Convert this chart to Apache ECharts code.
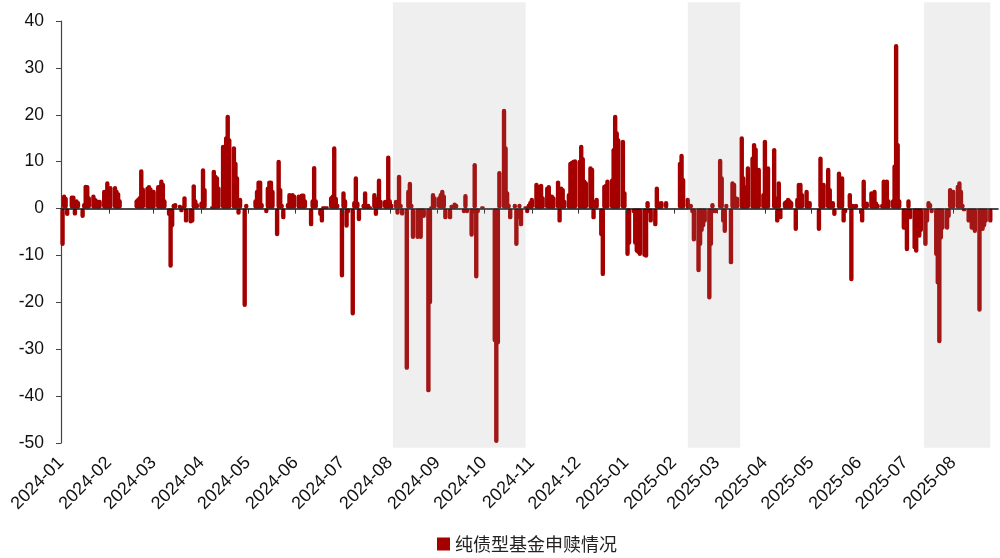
<!DOCTYPE html>
<html>
<head>
<meta charset="utf-8">
<script src="https://cdn.jsdelivr.net/npm/echarts@6/dist/echarts.min.js"></script>
<style>
  html, body { margin: 0; padding: 0; background: #fff; }
  #chart { width: 1000px; height: 558px; }
</style>
</head>
<body>
<div id="chart"></div>
<script>
// Month tick labels along the date axis
const monthLabels = ['2024-01','2024-02','2024-03','2024-04','2024-05','2024-06','2024-07','2024-08','2024-09','2024-10','2024-11','2024-12',
                     '2025-01','2025-02','2025-03','2025-04','2025-05','2025-06','2025-07','2025-08'];

// Exchange holidays (weekday closures)
const closedDays = ['2024-01-01','2024-02-09','2024-02-12','2024-02-13','2024-02-14','2024-02-15','2024-02-16',
  '2024-04-04','2024-04-05','2024-05-01','2024-05-02','2024-05-03','2024-06-10','2024-09-16','2024-09-17',
  '2024-10-01','2024-10-02','2024-10-03','2024-10-04','2024-10-07','2025-01-01','2025-01-28','2025-01-29',
  '2025-01-30','2025-01-31','2025-02-03','2025-02-04','2025-04-04','2025-05-01','2025-05-02','2025-05-05','2025-06-02'];

// Daily net subscription / redemption of pure bond funds, one array per month (trading days in order)
const v202401 = [-8, 3, 2.5, -1.6, 2.8, 2.8, -1.5, 2, 1.6, -2, 1.2, 5.1, 5, 2.6, 3, 2.3, 2, 1.9, 1.9, 4, 4, 5.8];
const v202402 = [4, 4.8, 4.8, 4, 3.5, 2, 2, 2.3, 2.7, 8.4, 4.5, 4.7, 5, 4.5, 2];
const v202403 = [4, 5, 5.1, 6.2, 5.5, 2, -1.6, -12.6, -4, 1, 1.2, 0.8, -0.8, 0.6, 2.6, -3, -3.2, -3, 5.2, 2, 1.2];
const v202404 = [1.5, 8.6, 4.4, 0.5, 8.3, 7.2, 6.9, 4.7, 13.6, 13.6, 15.4, 20, 15, 13.3, 10, 6.9, -1.3, 2.3, -21, 1];
const v202405 = [2, 4, 6, 6, 1.2, -1, 4.7, 6, 6, 4, -5.9, 10.4, 4.4, 1, -2.3, 1.2, 3.3, 2, 3.3, 3];
const v202406 = [3, 1, 3.2, 3.2, 2, -3.8, 2, 9.1, 2, -1.6, -3, 0.5, 0.3, 0.5, 2.6, 3, 13.3, 2.5, 1];
const v202407 = [-14.7, 3.7, 2, -4.1, -1, -22.8, 1.6, 6.9, 1.5, -2.7, 1, 3.7, 0.8, 1, 0.5, 3.3, -1.6, 2.5, 6.4, 1.9, 1.9, 1.5, 11.3];
const v202408 = [2, 1, 1.9, -1.3, 7.2, 1, -1.5, -34.4, 4, 5.7, 1, -6.5, -6.5, -6.2, -6.5, -1.6, -2, -39.2, -20.4, 0.5, 3.3, 2.6];
const v202409 = [2.6, 3.3, 4, 3, -2.3, -2.3, 0.8, 0.5, 1.3, 1, -1, 3.1, -1, -6, -1, 9.7, -14.9, -1, 0.5];
const v202410 = [-28.5, -50, -29, 8, 21.3, 13.3, 3.7, 1, -2.3, 1, -8, -2.3, 1, -3.8, 0.5, -1, 1, 1.6];
const v202411 = [2.3, 5.5, 5.1, 2.6, 5.3, 2.6, 4.7, 5, 3, 3, 2.6, 6, -3, 4.7, 4.4, 1.9, 3.3, 10, 10.2, 10.4, 10.5];
const v202412 = [10.4, 13.6, 11, 6.2, 5.8, 9, 8.7, -2.3, 1.9, 2.3, -5.9, -14.4, 5.1, 5.3, 6.2, 6.4, 12.9, 20, 16.5, 15, 14.7, 3.7];
const v202501 = [-10.1, -7.7, -1, -7.7, -9.4, -9.7, -10.1, -10.3, -10.5, 1.6, -1, -3, -3.8, 4.7, 1.6, 0.5, 1.6, 1.6];
const v202502 = [10, 11.7, 6.5, 2.3, 0.5, 1, -1, -7, -13.6, -8, -5, -4, -3, -19.4, -8, 1.2, -1, -1];
const v202503 = [10.6, 6.9, -3, -5.2, 1, -11.9, 5.8, 5.5, 2.6, 2.5, 15.4, 6.9, 5, 2.6, 9, 11.1, 14, 13, 3.3, 8.7, 3.3];
const v202504 = [14.7, 2.6, 9, 12.9, 2.6, -3, 5.8, -2.3, 1.6, 1.9, 2.3, 2, 1.6, -4.8, 2.3, 5.5, 5.5, 3.3, 4, 1.6, 1.6];
const v202505 = [-4.8, 11.1, 3, 5.5, 8.7, 4.4, 1.6, 1.6, -1.6, 7.9, 4, 6.9, -3, -1, 3.3, -15.5, 1, 0.5, 1];
const v202506 = [-3, 6.2, 1, 1.5, 3.7, 2, 4, 1.5, 1, 1, 6.2, 2, 6.2, 2, 2, 9.4, 35.1, 14, 2, -4.5];
const v202507 = [-4.5, -9.1, 2, -2.3, -8.7, -9.4, -4.5, -6.2, -5, -8, -3, 1.6, 1.2, -1, -10.1, -16.2, -28.7, -6.6, -4.5, -4.5, -2, 4.4, 4];
const v202508 = [4, 5.1, 5.8, 4, 1, -0.6, -3, -2, -4.5, -4.5, -5.2, -22, -4.8, -4.8, -4, -3, -3];

const monthlyValues = [v202401, v202402, v202403, v202404, v202405, v202406, v202407, v202408, v202409, v202410, v202411, v202412,
                       v202501, v202502, v202503, v202504, v202505, v202506, v202507, v202508];

// Highlighted periods (start / end dates)
const shadeStart = ['2024-08-03', '2025-02-10', '2025-07-13'];
const shadeEnd   = ['2024-10-28', '2025-03-16', '2025-08-25'];

const seriesName = '纯债型基金申赎情况';

function ts(str) {
  const [y, m, d] = str.split('-').map(Number);
  return new Date(y, m - 1, d).getTime();
}
function pad(n) { return String(n).padStart(2, '0'); }

// Pair each month's values with its trading days
const barData = [];
monthLabels.forEach((label, i) => {
  const [y, mo] = label.split('-').map(Number);
  const vals = monthlyValues[i];
  let k = 0;
  for (let day = 1; day <= 31 && k < vals.length; day++) {
    const dt = new Date(y, mo - 1, day);
    if (dt.getMonth() !== mo - 1) break;
    const wd = dt.getDay();
    if (wd === 0 || wd === 6) continue;
    if (closedDays.includes(label + '-' + pad(day))) continue;
    barData.push([dt.getTime(), vals[k++]]);
  }
  if (k !== vals.length) console.warn('trading day count mismatch in', label);
});

const monthTicks = monthLabels.map(l => ts(l + '-01'));
const xMin = ts('2024-01-01');
const xMax = ts('2025-08-30');

const chart = echarts.init(document.getElementById('chart'), null, { renderer: 'canvas' });

chart.setOption({
  animation: false,
  backgroundColor: '#ffffff',
  grid: { left: 61, right: 2, top: 21, bottom: 115, containLabel: false },
  legend: {
    data: [seriesName],
    left: 432,
    top: 530,
    icon: 'rect',
    itemWidth: 13,
    itemHeight: 13,
    itemGap: 10,
    textStyle: { fontFamily: 'Noto Sans CJK SC', fontSize: 18, color: '#222' }
  },
  xAxis: [
    {
      type: 'value',
      min: xMin,
      max: xMax,
      position: 'bottom',
      z: 5,
      axisLine: { show: true, onZero: true, lineStyle: { color: '#111', width: 1.6 } },
      axisTick: { show: true, customValues: monthTicks, length: 5, lineStyle: { color: '#333', width: 1 } },
      axisLabel: { show: false },
      splitLine: { show: false }
    },
    {
      type: 'value',
      min: xMin,
      max: xMax,
      position: 'bottom',
      axisLine: { show: false, onZero: false },
      axisTick: { show: false },
      axisLabel: {
        show: true,
        customValues: monthTicks,
        rotate: 45,
        margin: 17,
        fontSize: 18,
        fontFamily: 'Liberation Sans, Arial, sans-serif',
        color: '#111',
        formatter: v => { const d = new Date(v); return d.getFullYear() + '-' + pad(d.getMonth() + 1); }
      },
      splitLine: { show: false }
    }
  ],
  yAxis: {
    type: 'value',
    min: -50,
    max: 40,
    interval: 10,
    axisLine: { show: true, onZero: false, lineStyle: { color: '#444', width: 1.2 } },
    axisTick: { show: true, length: 5, lineStyle: { color: '#444' } },
    axisLabel: { fontSize: 17.5, fontFamily: 'Liberation Sans, Arial, sans-serif', color: '#111', margin: 17 },
    splitLine: { show: false }
  },
  series: [
    {
      name: seriesName,
      type: 'bar',
      xAxisIndex: 0,
      yAxisIndex: 0,
      data: barData,
      barWidth: 4.4,
      itemStyle: { color: '#A50000', borderRadius: 2.2 }
    }
  ]
});

// Translucent shading over the highlighted periods
const yTop = chart.convertToPixel({ yAxisIndex: 0 }, 44);
const yBottom = chart.convertToPixel({ yAxisIndex: 0 }, -51);
const shades = shadeStart.map((s, i) => {
  const x0 = chart.convertToPixel({ xAxisIndex: 0 }, ts(s));
  const x1 = chart.convertToPixel({ xAxisIndex: 0 }, ts(shadeEnd[i]));
  return {
    type: 'rect',
    z: 100,
    silent: true,
    shape: { x: x0, y: yTop, width: x1 - x0, height: yBottom - yTop },
    style: { fill: 'rgba(150,150,150,0.15)' }
  };
});
chart.setOption({ graphic: shades });
</script>
</body>
</html>
